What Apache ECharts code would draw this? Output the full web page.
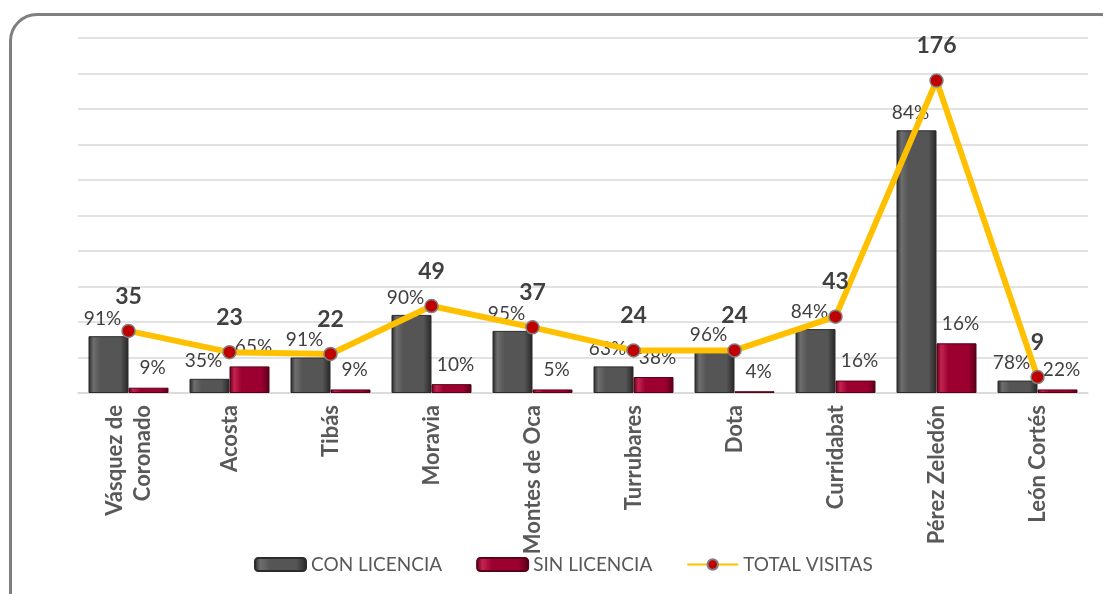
<!DOCTYPE html>
<html>
<head>
<meta charset="utf-8">
<script src="https://cdn.jsdelivr.net/npm/echarts@6/dist/echarts.min.js"></script>
<style>
  html, body { margin: 0; padding: 0; background: #fff; overflow: hidden; }
  #frame {
    position: absolute; left: 9px; top: 13px; width: 1120px; height: 620px;
    border: 3.5px solid #7f7f7f; border-radius: 28px; box-sizing: border-box;
  }
  #main { position: absolute; left: 0; top: 0; width: 1103px; height: 594px; }
</style>
</head>
<body>
<div id="frame"></div>
<div id="main"></div>
<script>
var categories = ['Vásquez de\nCoronado', 'Acosta', 'Tibás', 'Moravia', 'Montes de Oca',
  'Turrubares', 'Dota', 'Curridabat', 'Pérez Zeledón', 'León Cortés']
var conLicencia = [32, 8, 20, 44, 35, 15, 23, 36, 148, 7]
var sinLicencia = [3, 15, 2, 5, 2, 9, 1, 7, 28, 2]
var totalVisitas = [35, 23, 22, 49, 37, 24, 24, 43, 176, 9]

var font = 'Lato, "Open Sans", sans-serif'

// porcentaje de cada barra sobre el total de visitas
function pct (arr) {
  return function (p) {
    return Math.round(arr[p.dataIndex] / totalVisitas[p.dataIndex] * 100) + '%'
  }
}

function bevel (edge, mid, light) {
  return new echarts.graphic.LinearGradient(0, 0, 1, 0, [
    { offset: 0, color: edge },
    { offset: 0.12, color: light },
    { offset: 0.3, color: mid },
    { offset: 0.8, color: mid },
    { offset: 1, color: edge }
  ])
}

var myChart = echarts.init(document.getElementById('main'))

var option = {
  animation: false,
  textStyle: { fontFamily: font },
  grid: { left: 78, right: 15, top: 38, bottom: 201 },
  legend: {
    left: 249,
    top: 550,
    itemWidth: 51,
    itemHeight: 13,
    itemGap: 34,
    textStyle: { fontFamily: font, fontSize: 19, color: '#595959' },
    data: ['CON LICENCIA', 'SIN LICENCIA', 'TOTAL VISITAS']
  },
  xAxis: {
    type: 'category',
    data: categories,
    axisLine: { lineStyle: { color: '#d9d9d9', width: 1.5 } },
    axisTick: { show: false },
    axisLabel: {
      interval: 0,
      rotate: 90,
      margin: 12,
      fontFamily: font,
      fontSize: 22,
      fontWeight: 'bold',
      lineHeight: 28,
      color: '#595959'
    }
  },
  yAxis: {
    type: 'value',
    min: 0,
    max: 200,
    interval: 20,
    axisLabel: { show: false },
    axisLine: { show: false },
    axisTick: { show: false },
    splitLine: { lineStyle: { color: '#d9d9d9', width: 1.5 } }
  },
  series: [
    {
      name: 'CON LICENCIA',
      type: 'bar',
      barWidth: 40,
      barGap: '0%',
      data: conLicencia,
      itemStyle: {
        color: bevel('#262626', '#555555', '#6e6e6e'),
        borderColor: '#2b2b2b',
        borderWidth: 1
      },
      label: {
        show: true,
        position: 'top',
        distance: 8,
        offset: [-6, 0],
        formatter: pct(conLicencia),
        fontFamily: font,
        fontSize: 19,
        color: '#404040'
      }
    },
    {
      name: 'SIN LICENCIA',
      type: 'bar',
      barWidth: 40,
      barGap: '0%',
      data: sinLicencia,
      itemStyle: {
        color: bevel('#55001a', '#9c0030', '#c4234f'),
        borderColor: '#5a0019',
        borderWidth: 1
      },
      label: {
        show: true,
        position: 'top',
        distance: 10,
        offset: [4, 0],
        formatter: pct(sinLicencia),
        fontFamily: font,
        fontSize: 19,
        color: '#404040'
      }
    },
    {
      name: 'TOTAL VISITAS',
      type: 'line',
      data: totalVisitas,
      z: 5,
      symbol: 'circle',
      symbolSize: 13,
      lineStyle: { color: '#FFC000', width: 6 },
      itemStyle: { color: '#C00000', borderColor: '#808080', borderWidth: 1.5 },
      label: {
        show: true,
        position: 'top',
        distance: 16,
        fontFamily: font,
        fontSize: 23,
        fontWeight: 'bold',
        color: '#404040'
      }
    }
  ]
}

myChart.setOption(option)

window.onresize = function () {
  myChart.resize()
}
</script>
</body>
</html>
